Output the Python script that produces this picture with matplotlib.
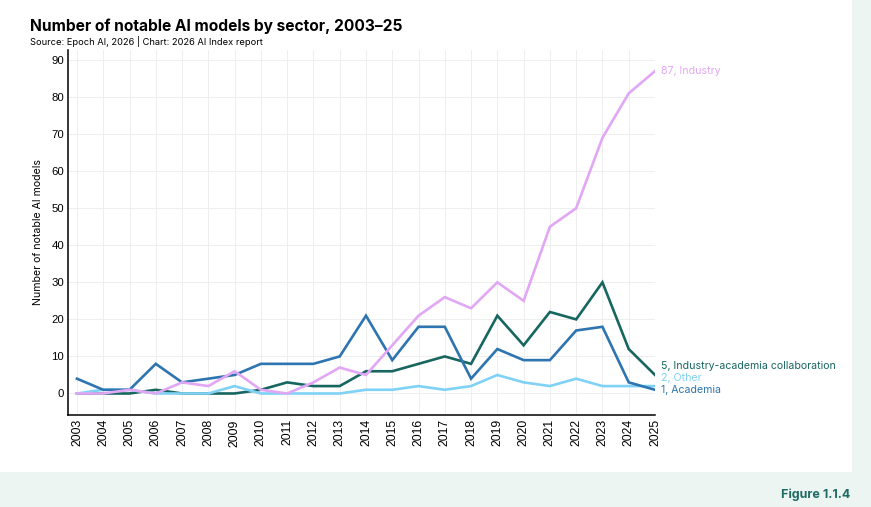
import matplotlib.pyplot as plt
from matplotlib.patches import Rectangle

years = list(range(2003, 2026))
industry = [0, 0, 1, 0, 3, 2, 6, 1, 0, 3, 7, 5, 13, 21, 26, 23, 30, 25, 45, 50, 69, 81, 87]
academia = [4, 1, 1, 8, 3, 4, 5, 8, 8, 8, 10, 21, 9, 18, 18, 4, 12, 9, 9, 17, 18, 3, 1]
collab = [0, 0, 0, 1, 0, 0, 0, 1, 3, 2, 2, 6, 6, 8, 10, 8, 21, 13, 22, 20, 30, 12, 5]
other = [0, 1, 1, 0, 0, 0, 2, 0, 0, 0, 0, 1, 1, 2, 1, 2, 5, 3, 2, 4, 2, 2, 2]

series = [
    ('Industry-academia collaboration', collab, '#17665f'),
    ('Other', other, '#7fd2f5'),
    ('Academia', academia, '#2d74b0'),
    ('Industry', industry, '#e2a7f4'),
]
# where the end labels sit (data units), spread so they don't collide
label_y = {'Industry': 87, 'Industry-academia collaboration': 7.4, 'Other': 4.2, 'Academia': 0.9}

fig = plt.figure(figsize=(8.71, 5.07), dpi=100)
fig.patch.set_facecolor('#ecf5f2')
fig.patches.append(Rectangle((0, 0.069), 0.978, 0.931, transform=fig.transFigure,
                             facecolor='white', edgecolor='none', zorder=-10))

ax = fig.add_axes([0.0784, 0.1815, 0.752 - 0.0784, 0.9014 - 0.1815])
ax.set_facecolor('white')

for name, vals, color in series:
    ax.plot(years, vals, color=color, lw=1.9, solid_joinstyle='miter', zorder=3)
    ax.annotate(f'{vals[-1]}, {name}', xy=(years[-1], label_y[name]), xytext=(4, 0),
                textcoords='offset points', va='center', ha='left', color=color,
                fontsize=7.6, family='Inter', annotation_clip=False)

ax.set_xlim(2002.67, 2025)
ax.set_ylim(-5.8, 92.7)
ax.set_xticks(years)
ax.set_xticklabels([str(y) for y in years], rotation=90, family='Liberation Sans', fontsize=8.8)
ax.set_yticks(range(0, 91, 10))
ax.tick_params(axis='y', labelsize=8.2, length=0, pad=3)
ax.tick_params(axis='x', length=0, pad=3)
for lab in ax.get_yticklabels():
    lab.set_family('Liberation Sans')
ax.grid(True, color='#eeeeee', lw=0.7, zorder=0)
ax.set_axisbelow(True)
for s in ['top', 'right']:
    ax.spines[s].set_visible(False)
for s in ['left', 'bottom']:
    ax.spines[s].set_linewidth(1.1)
ax.set_ylabel('Number of notable AI models', fontsize=7.6, family='Inter', labelpad=6)

fig.text(0.0345, 0.939, 'Number of notable AI models by sector, 2003–25',
         fontsize=11.2, fontweight='bold', family='Inter', va='baseline')
fig.text(0.0345, 0.911, 'Source: Epoch AI, 2026 | Chart: 2026 AI Index report',
         fontsize=6.7, family='Inter', va='baseline')
fig.text(0.976, 0.018, 'Figure 1.1.4', fontsize=9, fontweight='bold', color='#1d6b62',
         family='Inter', ha='right', va='baseline')

fig.savefig('out.png', dpi=100, facecolor=fig.get_facecolor())
